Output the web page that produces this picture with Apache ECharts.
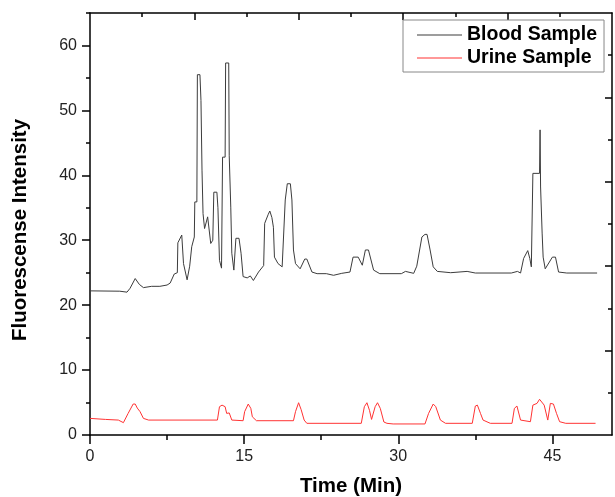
<!DOCTYPE html>
<html>
<head>
<meta charset="utf-8">
<script src="https://cdn.jsdelivr.net/npm/echarts@6/dist/echarts.min.js"></script>
<style>
html,body{margin:0;padding:0;background:#fff;}
#chart{width:615px;height:497px;}
</style>
</head>
<body>
<div id="chart"></div>
<script>
// ---- data ----
var seriesNames = ['Blood Sample', 'Urine Sample'];

var bloodTime = [0, 2.9, 3.6, 3.9, 4.4, 4.8, 5.2, 6.0, 6.8, 7.5, 7.8, 8.2, 8.5, 8.55, 8.93, 9.1, 9.45, 9.7, 9.9, 10.15, 10.2, 10.4, 10.45, 10.7, 10.8, 10.9, 11.0, 11.15, 11.3, 11.45, 11.6, 11.75, 11.95, 12.05, 12.35, 12.45, 12.6, 12.8, 12.9, 13.15, 13.2, 13.5, 13.55, 13.7, 13.8, 14.0, 14.2, 14.5, 14.7, 14.9, 15.3, 15.6, 15.9, 16.4, 16.9, 17.0, 17.35, 17.5, 17.7, 17.85, 17.95, 18.3, 18.7, 19.0, 19.2, 19.5, 19.65, 19.8, 20.0, 20.45, 20.9, 21.1, 21.6, 22.1, 23.0, 23.7, 24.5, 25.3, 25.6, 26.1, 26.5, 26.8, 27.1, 27.6, 28.2, 30.3, 30.7, 31.5, 31.8, 32.3, 32.6, 32.8, 33.1, 33.4, 33.8, 35.1, 36.7, 37.5, 41.0, 41.6, 41.9, 42.2, 42.6, 42.8, 42.95, 43.1, 43.75, 43.8, 43.85, 44.0, 44.1, 44.3, 45.0, 45.3, 45.6, 46.4, 49.35];
var bloodIntensity = [22.2, 22.15, 22.0, 22.6, 24.1, 23.2, 22.7, 22.9, 22.9, 23.1, 23.4, 24.8, 25.0, 29.6, 30.8, 26.4, 23.9, 26.0, 29.0, 30.5, 35.9, 35.9, 55.5, 55.5, 51.5, 40.8, 34.1, 31.8, 32.0, 33.6, 33.6, 29.5, 30.0, 37.4, 37.4, 35.0, 26.9, 25.7, 42.8, 42.8, 57.3, 57.3, 43.0, 35.1, 28.0, 25.4, 30.3, 30.3, 28.0, 24.4, 24.2, 24.5, 23.8, 25.1, 26.1, 32.6, 34.0, 34.5, 33.5, 32.0, 27.4, 26.4, 25.9, 36.2, 38.7, 38.7, 36.2, 28.5, 26.4, 25.6, 27.1, 27.1, 25.1, 24.85, 24.85, 24.6, 24.9, 25.1, 27.4, 27.4, 26.15, 28.5, 28.5, 25.4, 24.85, 24.85, 25.2, 24.9, 26.0, 30.5, 30.9, 30.9, 28.5, 25.9, 25.2, 25.0, 25.2, 24.95, 24.95, 25.2, 24.95, 27.2, 28.4, 27.2, 25.9, 40.3, 40.3, 47.0, 38.2, 31.1, 27.4, 25.6, 27.4, 27.4, 25.1, 24.95, 24.95];

var urineTime = [0, 1.5, 2.76, 3.25, 3.7, 4.2, 4.4, 4.6, 4.87, 5.2, 5.7, 12.4, 12.6, 12.85, 13.15, 13.3, 13.55, 13.8, 14.9, 15.05, 15.4, 15.65, 15.8, 16.2, 19.8, 20.0, 20.3, 20.55, 20.84, 21.1, 26.4, 26.7, 26.95, 27.2, 27.4, 27.75, 27.98, 28.25, 28.6, 28.9, 29.5, 32.6, 32.95, 33.4, 33.65, 34.1, 34.6, 37.2, 37.5, 37.7, 38.0, 38.25, 38.96, 41.07, 41.3, 41.55, 41.9, 42.86, 43.1, 43.5, 43.75, 43.9, 44.2, 44.55, 44.8, 45.1, 45.4, 45.7, 46.3, 49.2];
var urineIntensity = [2.56, 2.4, 2.3, 1.9, 3.3, 4.77, 4.77, 4.15, 3.6, 2.56, 2.3, 2.3, 4.36, 4.6, 4.36, 3.33, 3.4, 2.3, 2.2, 3.6, 4.77, 4.1, 2.8, 2.2, 2.2, 3.6, 4.97, 3.9, 2.3, 1.8, 1.8, 4.36, 4.97, 3.8, 2.4, 4.36, 4.97, 4.1, 2.0, 1.8, 1.7, 1.7, 3.33, 4.77, 4.36, 2.3, 1.8, 1.8, 4.46, 4.6, 3.33, 2.3, 1.8, 1.8, 4.1, 4.46, 2.3, 2.05, 4.6, 4.87, 5.5, 5.5, 4.6, 2.3, 4.87, 4.77, 3.33, 2.05, 1.8, 1.8];

var xMajorTicks = [0, 15, 30, 45];
var xMinorTicks = [7.5, 22.5, 37.5];
var yMajorTicks = [0, 10, 20, 30, 40, 50, 60];
var yMinorTicks = [5, 15, 25, 35, 45, 55, 65];
var frameMajorTicks = [1, 2, 3, 4];
var frameMinorTicks = [0.5, 1.5, 2.5, 3.5, 4.5];

var xMin = 0, xMax = 50.8, yMin = 0, yMax = 65;

function pairs(xs, ys) { return xs.map(function (x, i) { return [x, ys[i]]; }); }

var FONT = 'Liberation Sans, Arial, sans-serif';
var axisLineStyle = { color: '#000', width: 1.5 };
var gridBox = { left: 90, right: 3, top: 13, bottom: 62, containLabel: false, outerBoundsMode: 'none' };

function tickAxis(opts) {
  return Object.assign({
    type: 'value',
    axisLine: { show: false, onZero: false },
    axisLabel: { show: false },
    splitLine: { show: false }
  }, opts);
}

var chart = echarts.init(document.getElementById('chart'), null, { renderer: 'canvas' });
chart.setOption({
  animation: false,
  backgroundColor: '#fff',
  textStyle: { fontFamily: FONT },
  grid: [
    Object.assign({}, gridBox),
    Object.assign({}, gridBox),
    Object.assign({}, gridBox),
    Object.assign({}, gridBox)
  ],
  legend: {
    orient: 'vertical',
    left: 403, top: 20,
    data: seriesNames,
    icon: 'rect',
    itemWidth: 45, itemHeight: 1,
    itemGap: 1,
    padding: [4, 7, 3, 14],
    borderColor: '#888', borderWidth: 1,
    backgroundColor: '#fff',
    textStyle: { fontSize: 19.5, fontWeight: 'bold', color: '#000', fontFamily: FONT, lineHeight: 22 }
  },
  xAxis: [
    {
      type: 'value', gridIndex: 0, position: 'bottom', min: xMin, max: xMax,
      name: 'Time (Min)', nameLocation: 'middle', nameGap: 41,
      nameTextStyle: { fontSize: 20.5, fontWeight: 'bold', color: '#000', fontFamily: FONT },
      axisLine: { show: true, onZero: false, lineStyle: axisLineStyle },
      axisTick: { show: true, length: 9, lineStyle: axisLineStyle, customValues: xMajorTicks },
      axisLabel: { show: true, fontSize: 16, color: '#222', margin: 14, customValues: xMajorTicks, fontFamily: FONT },
      splitLine: { show: false }
    },
    tickAxis({
      gridIndex: 1, position: 'bottom', min: xMin, max: xMax,
      axisTick: { show: true, length: 5, lineStyle: axisLineStyle, customValues: xMinorTicks }
    }),
    tickAxis({
      gridIndex: 2, position: 'top', min: 0, max: 5,
      axisLine: { show: true, onZero: false, lineStyle: axisLineStyle },
      axisTick: { show: true, inside: true, length: 7, lineStyle: axisLineStyle, customValues: frameMajorTicks }
    }),
    tickAxis({
      gridIndex: 3, position: 'top', min: 0, max: 5,
      axisTick: { show: true, inside: true, length: 4, lineStyle: axisLineStyle, customValues: frameMinorTicks }
    })
  ],
  yAxis: [
    {
      type: 'value', gridIndex: 0, position: 'left', min: yMin, max: yMax,
      name: 'Fluorescense Intensity', nameLocation: 'middle', nameGap: 59,
      nameTextStyle: { fontSize: 20.5, fontWeight: 'bold', color: '#000', fontFamily: FONT, padding: [0, 12, 0, 0] },
      axisLine: { show: true, onZero: false, lineStyle: axisLineStyle },
      axisTick: { show: true, length: 8, lineStyle: axisLineStyle, customValues: yMajorTicks },
      axisLabel: { show: true, fontSize: 16, color: '#222', margin: 13, customValues: yMajorTicks, fontFamily: FONT },
      splitLine: { show: false }
    },
    tickAxis({
      gridIndex: 1, position: 'left', min: yMin, max: yMax,
      axisTick: { show: true, length: 4, lineStyle: axisLineStyle, customValues: yMinorTicks }
    }),
    tickAxis({
      gridIndex: 2, position: 'right', min: 0, max: 5,
      axisLine: { show: true, onZero: false, lineStyle: axisLineStyle },
      axisTick: { show: true, inside: true, length: 7, lineStyle: axisLineStyle, customValues: frameMajorTicks }
    }),
    tickAxis({
      gridIndex: 3, position: 'right', min: 0, max: 5,
      axisTick: { show: true, inside: true, length: 4, lineStyle: axisLineStyle, customValues: frameMinorTicks }
    })
  ],
  series: [
    {
      name: seriesNames[0], type: 'line', xAxisIndex: 0, yAxisIndex: 0,
      data: pairs(bloodTime, bloodIntensity),
      symbol: 'none', showSymbol: false,
      lineStyle: { color: '#3c3c3c', width: 1 },
      itemStyle: { color: '#3c3c3c' },
      z: 3
    },
    {
      name: seriesNames[1], type: 'line', xAxisIndex: 0, yAxisIndex: 0,
      data: pairs(urineTime, urineIntensity),
      symbol: 'none', showSymbol: false,
      lineStyle: { color: '#ff3333', width: 1 },
      itemStyle: { color: '#ff3333' },
      z: 3
    }
  ]
});
</script>
</body>
</html>
